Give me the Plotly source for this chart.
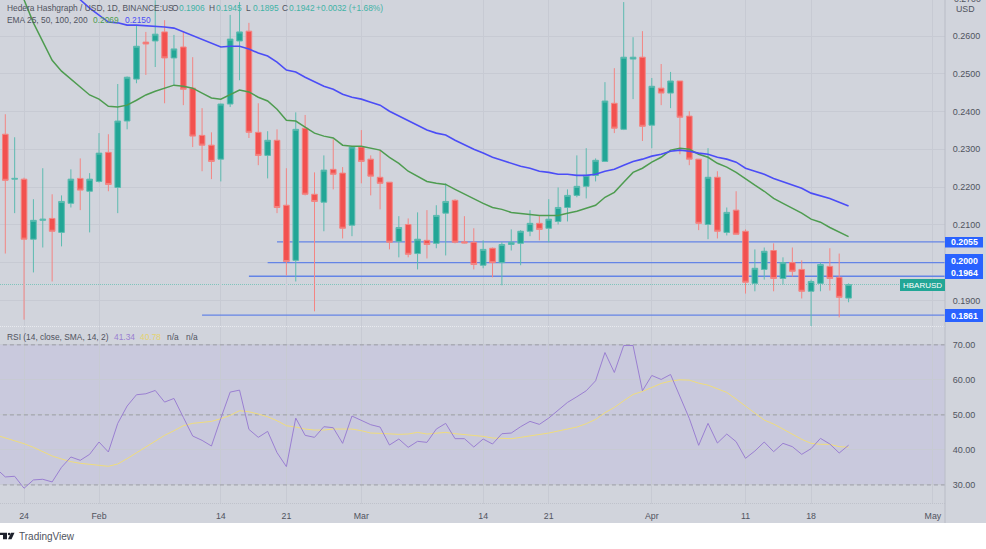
import pandas as pd
import plotly.graph_objects as go

W, H = 986, 549

# daily candles, Jan 22 to Apr 22 2022
opens = [.2340, .2221, .2221, .2062, .2112, .2117, .2080, .2157, .2223, .2189,
         .2215, .2292, .2199, .2375, .2486, .2584, .2587, .2611, .2542, .2571,
         .2462, .2337, .2311, .2274, .2420, .2587, .2613, .2345, .2284, .2324,
         .2152, .2006, .2356, .2181, .2160, .2247, .2237, .2099, .2306, .2274,
         .2226, .2213, .2056, .2101, .2024, .2059, .2051, .2131, .2165, .2055,
         .2054, .1993, .2038, .2000, .2048, .2051, .2083, .2104, .2091, .2109,
         .2146, .2178, .2202, .2231, .2268, .2422, .2353, .2539, .2544, .2364,
         .2462, .2449, .2481, .2388, .2274, .2101, .2226, .2080, .2139, .2083,
         .1945, .1982, .2032, .1958, .2000, .1982, .1924, .1945, .1990, .1961,
         .1906]
highs = [.2393, .2332, .2225, .2168, .2250, .2181, .2178, .2247, .2276, .2237,
         .2343, .2340, .2473, .2493, .2629, .2611, .2695, .2642, .2603, .2611,
         .2544, .2409, .2345, .2421, .2656, .2690, .2635, .2422, .2348, .2353,
         .2250, .2398, .2391, .2239, .2284, .2327, .2253, .2306, .2351, .2284,
         .2298, .2213, .2123, .2117, .2133, .2139, .2152, .2210, .2168, .2123,
         .2091, .2059, .2040, .2054, .2088, .2086, .2139, .2123, .2168, .2199,
         .2194, .2284, .2303, .2276, .2478, .2515, .2690, .2597, .2613, .2489,
         .2526, .2505, .2481, .2401, .2274, .2303, .2242, .2146, .2189, .2088,
         .2035, .2040, .2051, .2014, .2040, .2006, .1955, .2000, .2038, .2024,
         .1945]
lows = [.2024, .2131, .1849, .1974, .2040, .1950, .2043, .2146, .2139, .2080,
        .2212, .2189, .2131, .2353, .2475, .2497, .2518, .2422, .2470, .2417,
        .2306, .2242, .2221, .2215, .2412, .2483, .2330, .2258, .2223, .2131,
        .1966, .1950, .2178, .1871, .2083, .2194, .2064, .2070, .2210, .2178,
        .2141, .2035, .2014, .2014, .1982, .2011, .2038, .2019, .2051, .2051,
        .1982, .1985, .1961, .1940, .2032, .1993, .2070, .2059, .2054, .2101,
        .2109, .2173, .2170, .2215, .2268, .2343, .2351, .2433, .2322, .2303,
        .2417, .2409, .2287, .2258, .2086, .2062, .2064, .2072, .2075, .1918,
        .1924, .1955, .1924, .1942, .1963, .1905, .1831, .1924, .1926, .1855,
        .1895]
closes = [.2218, .2223, .2062, .2112, .2115, .2083, .2162, .2221, .2192, .2221,
          .2290, .2207, .2375, .2491, .2573, .2579, .2605, .2542, .2566, .2459,
          .2335, .2311, .2268, .2420, .2592, .2611, .2345, .2284, .2324, .2146,
          .2003, .2353, .2181, .2162, .2245, .2234, .2091, .2306, .2268, .2229,
          .2210, .2054, .2093, .2022, .2062, .2048, .2125, .2162, .2054, .2052,
          .1995, .2035, .2000, .2048, .2054, .2083, .2104, .2088, .2115, .2146,
          .2178, .2202, .2231, .2271, .2428, .2356, .2544, .2544, .2361, .2467,
          .2449, .2481, .2385, .2274, .2104, .2226, .2083, .2133, .2075, .1948,
          .1985, .2030, .1958, .2000, .1977, .1924, .1950, .1995, .1958, .1908,
          .1942]

# both EMAs run off the top of the pane at the start, values line up from the end
ema_green = [.2769, .2696, .2635, .2584, .2536, .2507, .2486, .2465, .2444, .2433,
             .2414, .2412, .2417, .2430, .2444, .2454, .2462, .2470, .2467, .2462,
             .2449, .2436, .2433, .2444, .2457, .2452, .2438, .2428, .2406, .2377,
             .2375, .2359, .2343, .2335, .2330, .2311, .2308, .2308, .2303, .2298,
             .2279, .2263, .2242, .2229, .2215, .2210, .2207, .2194, .2181, .2168,
             .2157, .2146, .2141, .2133, .2131, .2128, .2125, .2125, .2125, .2131,
             .2136, .2144, .2152, .2173, .2186, .2213, .2239, .2250, .2266, .2279,
             .2298, .2303, .2300, .2287, .2279, .2263, .2253, .2239, .2221, .2205,
             .2189, .2170, .2157, .2144, .2131, .2115, .2107, .2093, .2080, .2069]
ema_blue = [.2725, .2696, .2674, .2656, .2637, .2635, .2629, .2629, .2627, .2627,
            .2624, .2621, .2611, .2600, .2589, .2579, .2571, .2573, .2573, .2566,
            .2555, .2547, .2531, .2510, .2505, .2491, .2478, .2467, .2459, .2446,
            .2438, .2433, .2425, .2417, .2401, .2388, .2375, .2364, .2351, .2343,
            .2338, .2324, .2311, .2300, .2290, .2279, .2271, .2263, .2255, .2250,
            .2242, .2239, .2234, .2234, .2231, .2231, .2234, .2242, .2247, .2258,
            .2268, .2274, .2282, .2287, .2295, .2298, .2295, .2290, .2287, .2279,
            .2274, .2266, .2250, .2242, .2234, .2223, .2215, .2207, .2197, .2184,
            .2178, .2170, .2160, .2150]

rsi = [34.75, 32.28, 32.47, 29.05, 31.43, 31.62, 30.86, 35.04, 37.98, 37.03, 38.74,
       42.26, 39.41, 47.58, 52.52, 55.75, 56.03, 56.98, 53.66, 54.70, 49.29,
       43.97, 42.73, 41.12, 49.00, 56.51, 57.08, 45.87, 43.59, 45.30, 39.22,
       35.23, 49.10, 44.16, 43.59, 46.63, 46.34, 41.88, 49.67, 48.43, 47.20,
       46.53, 41.40, 43.11, 40.74, 42.45, 42.16, 45.96, 47.58, 43.21, 43.21,
       40.83, 43.11, 41.69, 44.63, 44.82, 46.63, 48.15, 47.29, 49.10, 51.38,
       53.56, 55.18, 56.89, 59.74, 67.81, 62.11, 69.81, 69.81, 56.89, 61.26,
       60.12, 61.54, 55.37, 49.00, 41.31, 47.58, 41.97, 44.54, 42.35, 37.60,
       39.69, 42.26, 39.50, 41.88, 40.93, 38.74, 40.36, 43.30, 41.69, 39.12,
       41.34]
rsi_sma = [44.25, 43.49, 42.64, 41.78, 40.74, 39.41, 38.27, 37.41, 36.65, 36.18, 35.80,
           35.61, 35.32, 35.99, 37.51, 39.22, 40.93, 42.64, 44.16, 45.49, 46.91,
           47.58, 47.96, 48.15, 48.91, 49.86, 51.19, 50.90, 50.24, 49.48, 48.34,
           46.91, 46.53, 45.96, 45.68, 45.68, 45.96, 46.06, 45.96, 45.49, 44.82,
           44.73, 44.54, 44.44, 44.54, 45.01, 44.54, 44.73, 45.01, 44.63, 44.44,
           44.25, 43.87, 43.40, 43.21, 43.21, 43.59, 43.97, 44.35, 44.82, 45.39,
           45.87, 46.53, 47.48, 48.72, 50.62, 52.14, 54.04, 55.84, 56.70, 57.74,
           58.98, 59.64, 60.02, 59.93, 59.07, 58.50, 57.55, 56.41, 54.51, 52.61,
           50.52, 48.53, 47.39, 45.96, 44.54, 43.02, 41.88, 41.59, 41.59, 40.93,
           40.78]

# horizontal levels drawn on the chart, with the day each one starts
level_prices = [0.2055, 0.2000, 0.1964, 0.1861]
level_starts = ["2022-02-20", "2022-02-19", "2022-02-17", "2022-02-12"]

price_ticks = [0.19, 0.20, 0.21, 0.22, 0.23, 0.24, 0.25, 0.26]
# 0.2000 sits under the blue tag, the tag carries that number
price_labels = ["0.1900", "", "0.2100", "0.2200", "0.2300", "0.2400", "0.2500", "0.2600"]
rsi_ticks = [30, 40, 50, 60, 70]
rsi_dashes = [30, 50, 70]
time_ticks = ["2022-01-24", "2022-02-01", "2022-02-14", "2022-02-21", "2022-03-01", "2022-03-14",
              "2022-03-21", "2022-04-01", "2022-04-11", "2022-04-18", "2022-05-01"]
time_labels = ["24", "Feb", "14", "21", "Mar", "14", "21", "Apr", "11", "18", "May"]

BG = "#D1D4DC"
GRID = "#C7CAD3"
TEXT = "#50535E"
UP = "#22A696"
DOWN = "#F2514F"
FONT = "Liberation Sans"

dates = pd.date_range("2022-01-21", periods=92, freq="D")
days = dates[-len(opens):]

PLOT_RIGHT = 945
PRICE_BOTTOM = 326.5
RSI_BOTTOM = 503.5
STRIP_BOTTOM = 523


def px(x):
    return x / W


def py(y):
    return 1 - y / H


fig = go.Figure()

fig.add_trace(go.Candlestick(
    x=days, open=opens, high=highs, low=lows, close=closes,
    xaxis="x", yaxis="y", whiskerwidth=0,
    increasing=dict(line=dict(color="#5DBBB0", width=1), fillcolor=UP),
    decreasing=dict(line=dict(color="#F38583", width=1), fillcolor=DOWN),
    showlegend=False,
))
fig.add_trace(go.Scatter(x=dates[-len(ema_green):], y=ema_green, mode="lines", xaxis="x", yaxis="y",
                         line=dict(color="#4E9C50", width=1.5), showlegend=False))
fig.add_trace(go.Scatter(x=dates[-len(ema_blue):], y=ema_blue, mode="lines", xaxis="x", yaxis="y",
                         line=dict(color="#4B4DF6", width=1.6), showlegend=False))
fig.add_trace(go.Scatter(x=dates[-len(rsi_sma):], y=rsi_sma, mode="lines", xaxis="x2", yaxis="y2",
                         line=dict(color="#EFDC7C", width=1), showlegend=False))
fig.add_trace(go.Scatter(x=dates[-len(rsi):], y=rsi, mode="lines", xaxis="x2", yaxis="y2",
                         line=dict(color="#9A7FD1", width=1), showlegend=False))

# backgrounds
fig.add_shape(type="rect", xref="paper", yref="paper", x0=0, x1=1, y0=py(STRIP_BOTTOM), y1=1,
              fillcolor=BG, line_width=0, layer="below")
fig.add_shape(type="rect", xref="x2", yref="y2", x0=dates[0], x1="2022-05-04", y0=30, y1=70,
              fillcolor="#C9C9DD", line_width=0, layer="below")

for price, start in zip(level_prices, level_starts):
    fig.add_shape(type="line", xref="x", yref="y", x0=start, x1="2022-05-04", y0=price, y1=price,
                  line=dict(color="#6484E6", width=1.4), layer="between")

for level in rsi_dashes:
    fig.add_shape(type="line", xref="x2", yref="y2", x0=dates[0], x1="2022-05-04", y0=level, y1=level,
                  line=dict(color="#8F919A", width=0.8, dash="4px,3px"), layer="between")

# last price line, stops at the HBARUSD tag
fig.add_shape(type="line", xref="paper", yref="y", x0=0, x1=px(900), y0=closes[-1], y1=closes[-1],
              line=dict(color="#7FC4BC", width=1, dash="1px,1px"), layer="between")

# pane separators and axis border
fig.add_shape(type="line", xref="paper", yref="paper", x0=0, x1=px(PLOT_RIGHT),
              y0=py(PRICE_BOTTOM), y1=py(PRICE_BOTTOM), line=dict(color="#E8EAEF", width=1, dash="1px,1px"))
fig.add_shape(type="line", xref="paper", yref="paper", x0=0, x1=px(PLOT_RIGHT),
              y0=py(RSI_BOTTOM), y1=py(RSI_BOTTOM), line=dict(color="#BFC2CB", width=1, dash="1px,1px"))
fig.add_shape(type="line", xref="paper", yref="paper", x0=px(PLOT_RIGHT), x1=px(PLOT_RIGHT),
              y0=py(STRIP_BOTTOM), y1=1, line=dict(color="#B9BCC6", width=1))

# price tags on the axis
for y0, y1 in [(237, 247.5), (254, 279), (309, 322)]:
    fig.add_shape(type="rect", xref="paper", yref="paper", x0=px(945), x1=px(983), y0=py(y1), y1=py(y0),
                  fillcolor="#2962FF", line_width=0)
fig.add_shape(type="rect", xref="paper", yref="paper", x0=px(900), x1=px(945), y0=py(291), y1=py(279),
              fillcolor="#22A696", line_width=0)

# TradingView mark
fig.add_shape(type="path", xref="paper", yref="paper", line_width=0, fillcolor="#1E222D",
              path=f"M {px(0)} {py(532.7)} L {px(7)} {py(532.7)} L {px(7)} {py(539.3)} L {px(3)} {py(539.3)} "
                   f"L {px(3)} {py(535)} L {px(0)} {py(535)} Z")
fig.add_shape(type="path", xref="paper", yref="paper", line_width=0, fillcolor="#1E222D",
              path=f"M {px(11)} {py(532.7)} L {px(14.5)} {py(532.7)} L {px(11.5)} {py(539.3)} "
                   f"L {px(8)} {py(539.3)} Z")
fig.add_shape(type="circle", xref="paper", yref="paper", line_width=0, fillcolor="#1E222D",
              x0=px(7.8), x1=px(10.4), y0=py(535.2), y1=py(532.7))


def label(x, y, text, color=TEXT, size=8.4, anchor="left", bold=False):
    fig.add_annotation(xref="paper", yref="paper", x=px(x), y=py(y), text=f"<b>{text}</b>" if bold else text,
                       showarrow=False, xanchor=anchor, yanchor="middle", borderpad=0,
                       font=dict(family=FONT, size=size, color=color))


GREEN_TXT = "#3FB3A6"
label(6, 8, "Hedera Hashgraph / USD, 1D, BINANCE:US")
for x, letter, value in [(171, "O", "0.1906"), (208, "H", "0.1945"), (245, "L", "0.1895"), (281, "C", "0.1942")]:
    label(x, 8, letter)
    label(x + 6.5, 8, value, color=GREEN_TXT)
label(315, 8, "+0.0032 (+1.68%)", color=GREEN_TXT)

label(6, 20, "EMA 25, 50, 100, 200")
label(92, 20, "0.2069", color="#4E9C50")
label(124, 20, "0.2150", color="#4B4DF6")

label(6, 337, "RSI (14, close, SMA, 14, 2)")
label(113, 337, "41.34", color="#9A7FD1")
label(139, 337, "40.78", color="#E5D36F")
label(166, 337, "n/a")
label(185, 337, "n/a")

label(952.5, -1, "0.2700", size=8.8)
label(965.5, 9, "USD", anchor="center", size=8.8)

label(964, 242.5, "0.2055", color="white", anchor="center", size=8.8, bold=True)
label(964, 260.5, "0.2000", color="white", anchor="center", size=8.8, bold=True)
label(964, 273, "0.1964", color="white", anchor="center", size=8.8, bold=True)
label(964, 315.5, "0.1861", color="white", anchor="center", size=8.8, bold=True)
label(922.5, 285, "HBARUSD", color="white", anchor="center", size=8)

label(17.5, 536.5, "TradingView", size=10)

x_range = ["2022-01-21 10:25", "2022-05-02 07:00"]
fig.update_layout(
    width=W, height=H, margin=dict(l=0, r=0, t=0, b=0),
    paper_bgcolor="white", plot_bgcolor="rgba(0,0,0,0)",
    font=dict(family=FONT, size=9, color=TEXT),
    showlegend=False,
    boxgap=0.3, boxgroupgap=0.14,
    xaxis=dict(domain=[0, px(PLOT_RIGHT)], range=x_range, anchor="y", type="date",
               tickvals=time_ticks, ticktext=time_labels, showticklabels=False, ticks="",
               showgrid=True, gridcolor=GRID, gridwidth=1, zeroline=False,
               rangeslider=dict(visible=False)),
    yaxis=dict(domain=[py(PRICE_BOTTOM), 1], range=[0.18308, 0.26955], side="right", anchor="x",
               tickvals=price_ticks, ticktext=price_labels, ticks="outside", ticklen=5, tickcolor="rgba(0,0,0,0)",
               showgrid=True, gridcolor=GRID, gridwidth=1, zeroline=False, tickfont=dict(size=9, color=TEXT)),
    xaxis2=dict(domain=[0, px(PLOT_RIGHT)], range=x_range, anchor="y2", type="date",
                tickvals=time_ticks, ticktext=time_labels, ticks="outside", ticklen=4, tickcolor="rgba(0,0,0,0)",
                showgrid=True, gridcolor=GRID, gridwidth=1, zeroline=False, tickfont=dict(size=8.8, color=TEXT)),
    yaxis2=dict(domain=[py(RSI_BOTTOM), py(PRICE_BOTTOM + 0.5)], range=[24.7, 75.1], side="right", anchor="x2",
                tickvals=rsi_ticks, tickformat=".2f", ticks="outside", ticklen=5, tickcolor="rgba(0,0,0,0)",
                showgrid=True, gridcolor=GRID, gridwidth=1, zeroline=False, tickfont=dict(size=9, color=TEXT)),
)

assert len(opens) == len(highs) == len(lows) == len(closes) == 91
assert len(ema_green) == 90 and len(ema_blue) == 84
assert len(rsi) == 92 and len(rsi_sma) == 92

fig.write_html("out.html", config=dict(displayModeBar=False),
               post_script="document.body.style.margin='0';document.body.style.overflow='hidden';")
